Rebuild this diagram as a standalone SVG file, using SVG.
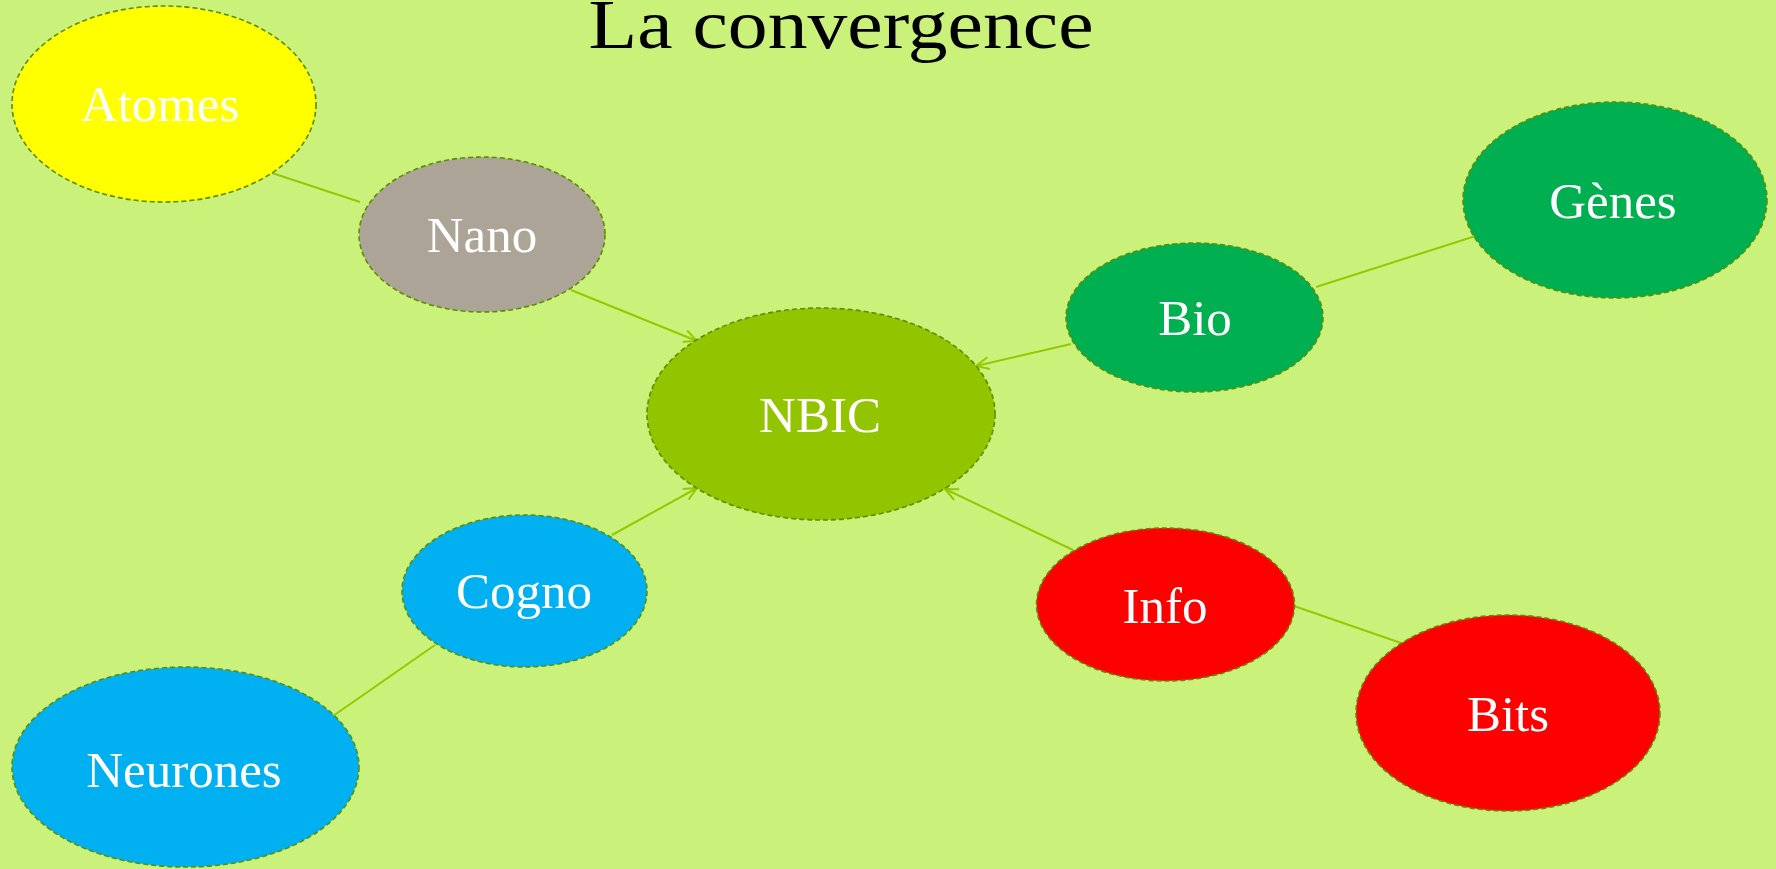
<svg xmlns="http://www.w3.org/2000/svg" width="1776" height="869" viewBox="0 0 1776 869">
<defs>
<style>
.node ellipse{stroke:#5e8c00;stroke-width:1.6;stroke-dasharray:5 3}
.node text{font-family:"Liberation Serif","Times New Roman",serif;font-size:51px;fill:#ffffff;text-anchor:middle}
.title{font-family:"Liberation Serif","Times New Roman",serif;font-size:70px;fill:#000000;text-anchor:middle}
.conn line{stroke:#94c800;stroke-width:2;fill:none}
</style>
<marker id="arr" markerUnits="userSpaceOnUse" markerWidth="18" markerHeight="16" refX="14" refY="7" orient="auto">
<path d="M1,1 L14,7 L1,13" fill="none" stroke="#94c800" stroke-width="2"/>
</marker>
</defs>
<rect x="0" y="0" width="1776" height="869" fill="#caf27a"/>
<text class="title" x="841" y="48" textLength="505" lengthAdjust="spacingAndGlyphs">La convergence</text>
<g id="connectors" class="conn">
<line x1="272" y1="173" x2="360" y2="202"/>
<line x1="571" y1="290" x2="697" y2="341" marker-end="url(#arr)"/>
<line x1="1071" y1="344" x2="976" y2="366" marker-end="url(#arr)"/>
<line x1="1485" y1="233" x2="1316" y2="287"/>
<line x1="612" y1="535" x2="697" y2="488" marker-end="url(#arr)"/>
<line x1="333" y1="716" x2="435" y2="645"/>
<line x1="1073" y1="550" x2="945" y2="489" marker-end="url(#arr)"/>
<line x1="1294" y1="606" x2="1401" y2="643"/>
</g>
<g id="atomes" class="node">
<ellipse cx="164" cy="104" rx="152" ry="98" fill="#ffff00"/>
<text x="160" y="121">Atomes</text>
</g>
<g id="nano" class="node">
<ellipse cx="482" cy="234.5" rx="123" ry="77.5" fill="#aca597"/>
<text x="482" y="252">Nano</text>
</g>
<g id="nbic" class="node">
<ellipse cx="821" cy="414" rx="174" ry="106" fill="#93c400"/>
<text x="820" y="432">NBIC</text>
</g>
<g id="bio" class="node">
<ellipse cx="1194.5" cy="317.5" rx="128.5" ry="74.5" fill="#00af50"/>
<text x="1195" y="335">Bio</text>
</g>
<g id="genes" class="node">
<ellipse cx="1615" cy="200" rx="152" ry="98" fill="#00af50"/>
<text x="1613" y="218">Gènes</text>
</g>
<g id="cogno" class="node">
<ellipse cx="524.5" cy="591" rx="122.5" ry="76" fill="#00b0f0"/>
<text x="524" y="608">Cogno</text>
</g>
<g id="neurones" class="node">
<ellipse cx="185.5" cy="767" rx="173.5" ry="100" fill="#00b0f0"/>
<text x="184" y="787">Neurones</text>
</g>
<g id="info" class="node">
<ellipse cx="1165.5" cy="604.5" rx="129" ry="76.5" fill="#ff0000"/>
<text x="1165" y="623">Info</text>
</g>
<g id="bits" class="node">
<ellipse cx="1508" cy="713" rx="152" ry="98" fill="#ff0000"/>
<text x="1508" y="731">Bits</text>
</g>
</svg>
